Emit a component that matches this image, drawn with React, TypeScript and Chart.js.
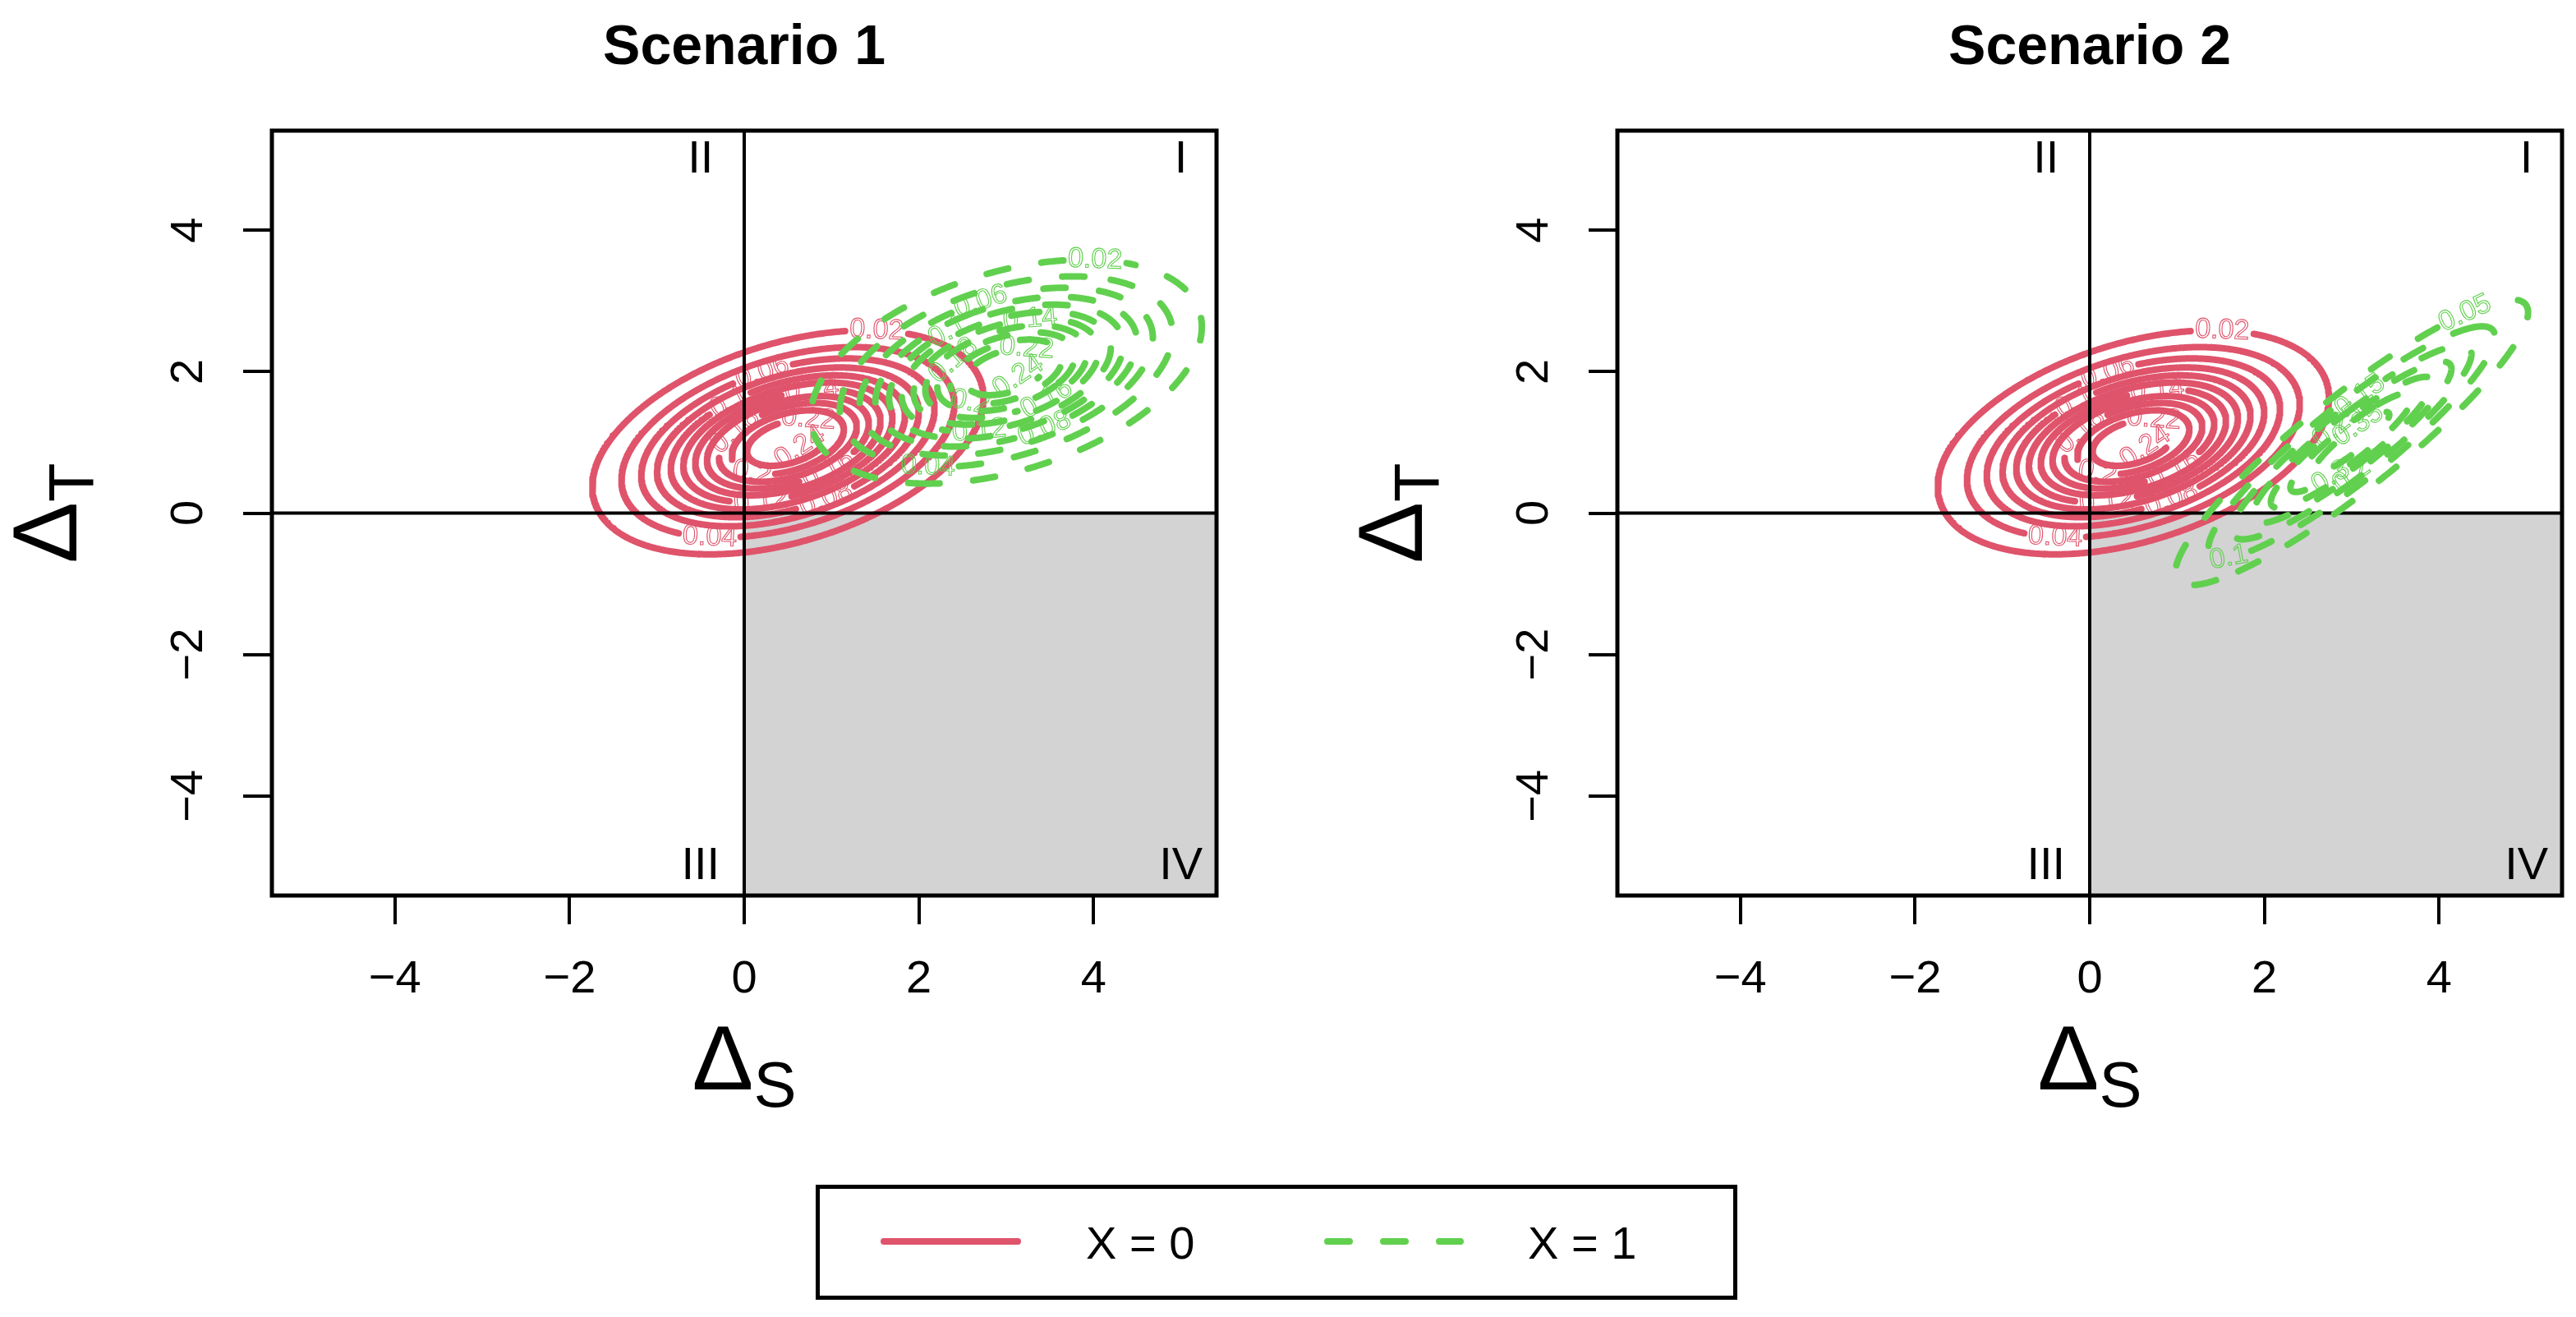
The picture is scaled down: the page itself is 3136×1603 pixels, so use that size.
import React, { useEffect, useRef } from 'react';
import { Chart, registerables } from 'chart.js';

Chart.register(...registerables);

// ---------- data ----------
const AXIS_MIN = -5.408;
const AXIS_MAX = 5.408;
const TICKS = [-4, -2, 0, 2, 4];
const PANEL_TITLES = ['Scenario 1', 'Scenario 2'];
const QUAD_LABELS = ['I', 'II', 'III', 'IV'];
const QUAD_X = [5, -0.5, -0.5, 5];
const QUAD_Y = [5, 5, -5, -5];
const LEGEND_LABELS = ['X = 0', 'X = 1'];

// X = 0 (same in both scenarios): bivariate normal density
const X0_MEAN = [0.5, 1.0];
const X0_SD = [1.0, 0.707];
const X0_RHO = 0.4;
const X0_LEVELS = [0.02, 0.04, 0.06, 0.08, 0.1, 0.12, 0.14, 0.16, 0.18, 0.2, 0.22, 0.24];
const X0_LABEL_ANGLES = [63, 242, 100, 287, 120, 255, 75, 300, 140, 230, 60, 310];

// X = 1, scenario 1
const S1_X1_MEAN = [3.0, 2.0];
const S1_X1_SD = [1.0, 0.707];
const S1_X1_RHO = 0.4;
const S1_X1_LEVELS = [0.02, 0.04, 0.06, 0.08, 0.1, 0.12, 0.14, 0.16, 0.18, 0.2, 0.22, 0.24];
const S1_X1_LABEL_ANGLES = [63, 242, 100, 287, 120, 255, 75, 300, 140, 230, 60, 310];

// X = 1, scenario 2
const S2_X1_MEAN = [3.0, 1.0];
const S2_X1_SD = [1.0, 1.0];
const S2_X1_RHO = 0.91;
const S2_X1_LEVELS = [0.05, 0.1, 0.15, 0.2, 0.25, 0.3, 0.35];
const S2_X1_LABEL_ANGLES = [50, 211, 86, 270, 100, 250, 80];

// ---------- styling ----------
const RED = '#DF536B';
const GREEN = '#61D04F';
const FONT = '"Liberation Sans", Arial, Helvetica, sans-serif';
const CANVAS_W = 1498;
const CANVAS_H = 1400;
const LINE_W = 8;

const fmt = (v: number) => (v < 0 ? '\u2212' + Math.abs(v) : String(v));

function ringPoint(mean: number[], sd: number[], rho: number, r: number, t: number) {
  const c = Math.sqrt(1 - rho * rho);
  return {
    x: mean[0] + sd[0] * r * Math.cos(t),
    y: mean[1] + sd[1] * r * (rho * Math.cos(t) + c * Math.sin(t)),
  };
}

function ringRadius(sd: number[], rho: number, level: number) {
  const f0 = 1 / (2 * Math.PI * sd[0] * sd[1] * Math.sqrt(1 - rho * rho));
  if (level >= f0) return -1;
  return Math.sqrt(2 * Math.log(f0 / level));
}

function contourDatasets(
  mean: number[], sd: number[], rho: number, levels: number[], angles: number[],
  color: string, dashed: boolean, baseOrder: number,
) {
  const out: any[] = [];
  levels.forEach((lev, i) => {
    const r = ringRadius(sd, rho, lev);
    if (r <= 0) return;
    const th = (angles[i] * Math.PI) / 180;
    const n = 720;
    const pts = [];
    for (let k = 0; k <= n; k++) {
      pts.push(ringPoint(mean, sd, rho, r, th + Math.PI + (2 * Math.PI * k) / n));
    }
    const p = ringPoint(mean, sd, rho, r, th);
    const p2 = ringPoint(mean, sd, rho, r, th + 0.01);
    const text = String(lev);
    const width = 34 * (0.556 * (text.length - 1) + 0.278);
    out.push({
      label: text,
      data: pts,
      showLine: true,
      pointRadius: 0,
      pointHoverRadius: 0,
      borderColor: color,
      borderWidth: LINE_W,
      borderDash: dashed ? [27, 41] : [],
      borderCapStyle: 'round',
      borderJoinStyle: 'round',
      tension: 0,
      // lower levels drawn first, like R's contour()
      order: baseOrder - i,
      contourLabel: { text, x: p.x, y: p.y, x2: p2.x, y2: p2.y, gap: width / 2 + 5, color },
      segment: {
        borderColor: (sc: any) => {
          const ds = sc.chart.data.datasets[sc.datasetIndex];
          const lab = ds.contourLabel;
          if (!lab) return undefined;
          const lx = sc.chart.scales.x.getPixelForValue(lab.x);
          const ly = sc.chart.scales.y.getPixelForValue(lab.y);
          const mx = (sc.p0.x + sc.p1.x) / 2 - lx;
          const my = (sc.p0.y + sc.p1.y) / 2 - ly;
          return mx * mx + my * my < lab.gap * lab.gap ? 'rgba(0,0,0,0)' : undefined;
        },
      },
    });
  });
  return out;
}

function axisLineDatasets() {
  return [
    { data: [{ x: AXIS_MIN - 1, y: 0 }, { x: AXIS_MAX + 1, y: 0 }] },
    { data: [{ x: 0, y: AXIS_MIN - 1 }, { x: 0, y: AXIS_MAX + 1 }] },
  ].map((d) => ({
    ...d,
    showLine: true,
    pointRadius: 0,
    pointHoverRadius: 0,
    borderColor: '#000',
    borderWidth: 4,
    order: 50,
    clip: 0,
  }));
}

function panelPlugin(title: string) {
  return {
    id: 'panelDecor',
    beforeDatasetsDraw(chart: any) {
      const { ctx, chartArea: a, scales } = chart;
      const x0 = scales.x.getPixelForValue(0);
      const y0 = scales.y.getPixelForValue(0);
      ctx.save();
      ctx.fillStyle = '#D3D3D3';
      ctx.fillRect(x0, y0, a.right - x0, a.bottom - y0);
      ctx.restore();
    },
    afterDatasetDraw(chart: any, args: any) {
      const ds = chart.data.datasets[args.index];
      const lab = ds && ds.contourLabel;
      if (!lab) return;
      const { ctx, scales, chartArea: a } = chart;
      const px = scales.x.getPixelForValue(lab.x);
      const py = scales.y.getPixelForValue(lab.y);
      const qx = scales.x.getPixelForValue(lab.x2);
      const qy = scales.y.getPixelForValue(lab.y2);
      let ang = Math.atan2(qy - py, qx - px);
      if (ang > Math.PI / 2) ang -= Math.PI;
      if (ang < -Math.PI / 2) ang += Math.PI;
      ctx.save();
      ctx.beginPath();
      ctx.rect(a.left, a.top, a.right - a.left, a.bottom - a.top);
      ctx.clip();
      ctx.translate(px, py);
      ctx.rotate(ang);
      ctx.font = '34px ' + FONT;
      ctx.strokeStyle = lab.color;
      ctx.lineWidth = 1.1;
      ctx.textAlign = 'center';
      ctx.textBaseline = 'middle';
      ctx.strokeText(lab.text, 0, 0);
      ctx.restore();
    },
    afterDraw(chart: any) {
      const { ctx, chartArea: a, scales } = chart;
      const cx = (a.left + a.right) / 2;
      const cy = (a.top + a.bottom) / 2;
      ctx.save();
      // box
      ctx.strokeStyle = '#000';
      ctx.lineWidth = 5;
      ctx.strokeRect(a.left, a.top, a.right - a.left, a.bottom - a.top);
      // quadrant labels
      ctx.fillStyle = '#000';
      ctx.font = '56px ' + FONT;
      ctx.textAlign = 'center';
      ctx.textBaseline = 'middle';
      QUAD_LABELS.forEach((t, i) => {
        ctx.fillText(t, scales.x.getPixelForValue(QUAD_X[i]), scales.y.getPixelForValue(QUAD_Y[i]));
      });
      // y tick labels, rotated
      scales.y.ticks.forEach((tk: any) => {
        const py = scales.y.getPixelForValue(tk.value);
        ctx.save();
        ctx.translate(a.left - 100, py);
        ctx.rotate(-Math.PI / 2);
        ctx.fillText(fmt(tk.value), 0, 0);
        ctx.restore();
      });
      // title
      ctx.font = 'bold 68px ' + FONT;
      ctx.textBaseline = 'alphabetic';
      ctx.fillText(title, scales.x.getPixelForValue(0), a.top - 81);
      // axis titles
      const drawSub = (main: string, sub: string) => {
        ctx.font = '112px ' + FONT;
        const w1 = ctx.measureText(main).width;
        ctx.font = '78px ' + FONT;
        const w2 = ctx.measureText(sub).width;
        const start = -(w1 + w2) / 2;
        ctx.textAlign = 'left';
        ctx.font = '112px ' + FONT;
        ctx.fillText(main, start, 0);
        ctx.font = '78px ' + FONT;
        ctx.fillText(sub, start + w1, 21);
      };
      ctx.save();
      ctx.translate(cx, a.bottom + 236);
      drawSub('\u0394', 'S');
      ctx.restore();
      ctx.save();
      ctx.translate(a.left - 238, cy);
      ctx.rotate(-Math.PI / 2);
      drawSub('\u0394', 'T');
      ctx.restore();
      ctx.restore();
    },
  };
}

function buildConfig(panel: number): any {
  const x1 =
    panel === 0
      ? contourDatasets(S1_X1_MEAN, S1_X1_SD, S1_X1_RHO, S1_X1_LEVELS, S1_X1_LABEL_ANGLES, GREEN, true, 30)
      : contourDatasets(S2_X1_MEAN, S2_X1_SD, S2_X1_RHO, S2_X1_LEVELS, S2_X1_LABEL_ANGLES, GREEN, true, 30);
  const x0 = contourDatasets(X0_MEAN, X0_SD, X0_RHO, X0_LEVELS, X0_LABEL_ANGLES, RED, false, 100);
  const axisCommon = {
    type: 'linear',
    min: AXIS_MIN,
    max: AXIS_MAX,
    afterBuildTicks: (s: any) => {
      s.ticks = TICKS.map((v) => ({ value: v }));
    },
    grid: {
      drawOnChartArea: false,
      drawTicks: true,
      tickLength: 35,
      color: '#000',
      lineWidth: 4,
    },
    border: { display: false },
  };
  return {
    type: 'scatter',
    data: { datasets: [...x0, ...axisLineDatasets(), ...x1] },
    options: {
      responsive: false,
      maintainAspectRatio: false,
      animation: false,
      devicePixelRatio: 1,
      events: [],
      layout: { padding: { left: 0, right: 17, top: 159, bottom: 0 } },
      plugins: {
        legend: { display: false },
        tooltip: { enabled: false },
        title: { display: false },
      },
      scales: {
        x: {
          ...axisCommon,
          afterFit: (s: any) => {
            s.height = CANVAS_H - 1090;
          },
          ticks: {
            autoSkip: false,
            maxRotation: 0,
            minRotation: 0,
            padding: 34,
            color: '#000',
            font: { family: FONT, size: 56 },
            callback: (v: any) => fmt(Number(v)),
          },
        },
        y: {
          ...axisCommon,
          afterFit: (s: any) => {
            s.width = 331;
          },
          ticks: { display: false },
        },
      },
    },
    plugins: [panelPlugin(PANEL_TITLES[panel])],
  };
}

function Panel({ panel, left }: { panel: number; left: number }) {
  const ref = useRef<HTMLCanvasElement | null>(null);
  useEffect(() => {
    if (!ref.current) return;
    const chart = new Chart(ref.current, buildConfig(panel));
    return () => chart.destroy();
  }, [panel]);
  return (
    <canvas
      ref={ref}
      width={CANVAS_W}
      height={CANVAS_H}
      style={{ position: 'absolute', left, top: 0, width: CANVAS_W, height: CANVAS_H }}
    />
  );
}

function Legend() {
  return (
    <svg
      width={1122}
      height={140}
      style={{ position: 'absolute', left: 993, top: 1442 }}
    >
      <rect x={2.5} y={2.5} width={1117} height={135} fill="#fff" stroke="#000" strokeWidth={5} />
      <line x1={83} y1={69} x2={246} y2={69} stroke={RED} strokeWidth={8} strokeLinecap="round" />
      <text x={329} y={90} fontFamily={FONT} fontSize={56} fill="#000">
        {LEGEND_LABELS[0]}
      </text>
      <line
        x1={623}
        y1={69}
        x2={785}
        y2={69}
        stroke={GREEN}
        strokeWidth={8}
        strokeLinecap="round"
        strokeDasharray="27 41"
      />
      <text x={867} y={90} fontFamily={FONT} fontSize={56} fill="#000">
        {LEGEND_LABELS[1]}
      </text>
    </svg>
  );
}

export default function App() {
  return (
    <div
      style={{
        position: 'absolute',
        left: 0,
        top: 0,
        width: 3136,
        height: 1603,
        background: '#fff',
        overflow: 'hidden',
      }}
    >
      <Panel panel={0} left={0} />
      <Panel panel={1} left={1638} />
      <Legend />
    </div>
  );
}
